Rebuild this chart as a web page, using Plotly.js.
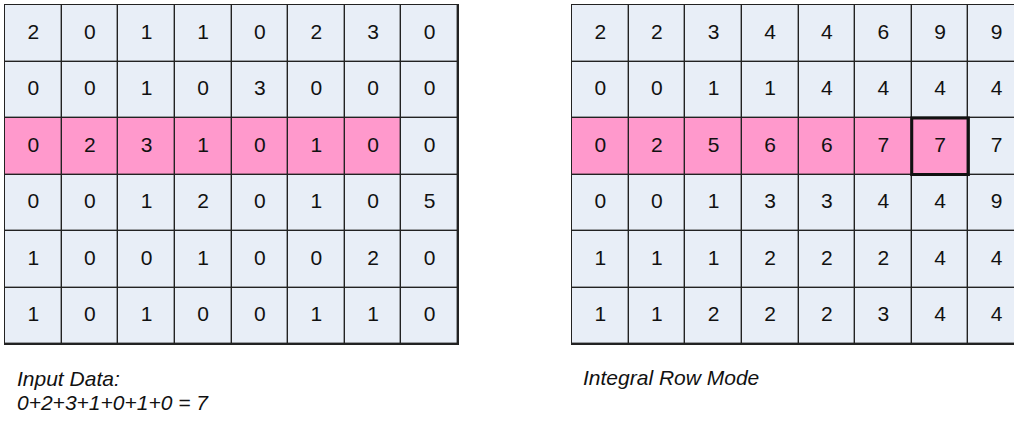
<!DOCTYPE html>
<html>
<head>
<meta charset="utf-8">
<script src="https://cdn.plot.ly/plotly-3.0.1.min.js"></script>
<style>html,body{margin:0;padding:0;background:#fff;}#chart{width:1014px;height:428px;}</style>
</head>
<body>
<div id="chart"></div>
<script>
// Input data grid (rows top to bottom)
const inputData = [
  [2, 0, 1, 1, 0, 2, 3, 0],
  [0, 0, 1, 0, 3, 0, 0, 0],
  [0, 2, 3, 1, 0, 1, 0, 0],
  [0, 0, 1, 2, 0, 1, 0, 5],
  [1, 0, 0, 1, 0, 0, 2, 0],
  [1, 0, 1, 0, 0, 1, 1, 0]
];
// Integral row mode grid
const integralData = [
  [2, 2, 3, 4, 4, 6, 9, 9],
  [0, 0, 1, 1, 4, 4, 4, 4],
  [0, 2, 5, 6, 6, 7, 7, 7],
  [0, 0, 1, 3, 3, 4, 4, 9],
  [1, 1, 1, 2, 2, 2, 4, 4],
  [1, 1, 2, 2, 2, 3, 4, 4]
];
const highlightRow = 2;
const highlightLastCol = 6;
const outlinedCell = {row: 2, col: 6};
const colIdx = [0, 1, 2, 3, 4, 5, 6, 7];
const rowIdx = [0, 1, 2, 3, 4, 5];
const labelLeft1 = 'Input Data:';
const labelLeft2 = '0+2+3+1+0+1+0 = 7';
const labelRight = 'Integral Row Mode';

const W = 1014, H = 428;
const FONT = 'Liberation Sans, Arial, sans-serif';
const mask = rowIdx.map(r => colIdx.map(c => (r === highlightRow && c <= highlightLastCol) ? 1 : 0));
const cs = [[0, '#E8EEF7'], [1, '#FF99CC']];

function hm(xa, ya) {
  return {
    type: 'heatmap', x: colIdx, y: rowIdx, z: mask,
    colorscale: cs, zmin: 0, zmax: 1, showscale: false,
    xgap: 1.4, ygap: 1.4, hoverinfo: 'skip',
    xaxis: xa, yaxis: ya
  };
}
function labels(vals, xa, ya) {
  const xs = [], ys = [], ts = [];
  rowIdx.forEach(r => colIdx.forEach(c => { xs.push(c); ys.push(r); ts.push(String(vals[r][c])); }));
  return {
    type: 'scatter', mode: 'text', x: xs, y: ys, text: ts,
    textposition: 'middle center',
    textfont: {family: FONT, size: 21, color: '#111'},
    hoverinfo: 'skip', cliponaxis: true,
    xaxis: xa, yaxis: ya
  };
}

const cellW = (458 - 5) / 8;
const rightWidthPx = W - 572;
const rightMax = -0.5 + rightWidthPx / cellW;

const axBase = {showgrid: false, zeroline: false, showticklabels: false, ticks: '', fixedrange: true,
  showline: true, linecolor: '#222', linewidth: 1.4};

const layout = {
  width: W, height: H,
  margin: {l: 0, r: 0, t: 0, b: 0},
  paper_bgcolor: '#fff', plot_bgcolor: '#222',
  showlegend: false,
  xaxis: Object.assign({}, axBase, {domain: [5 / W, 458 / W], range: [-0.5, 7.5], mirror: true, anchor: 'y'}),
  yaxis: Object.assign({}, axBase, {domain: [1 - 344 / H, 1 - 5 / H], range: [5.5, -0.5], mirror: true, anchor: 'x'}),
  xaxis2: Object.assign({}, axBase, {domain: [572 / W, 1], range: [-0.5, rightMax], mirror: true, anchor: 'y2'}),
  yaxis2: Object.assign({}, axBase, {domain: [1 - 344 / H, 1 - 5 / H], range: [5.5, -0.5], mirror: false, anchor: 'x2'}),
  shapes: [{
    type: 'rect', xref: 'x2', yref: 'y2',
    x0: outlinedCell.col - 0.5, x1: outlinedCell.col + 0.5,
    y0: outlinedCell.row - 0.5, y1: outlinedCell.row + 0.5,
    line: {color: '#111', width: 3}
  }],
  annotations: [
    {text: labelLeft1, xref: 'paper', yref: 'paper', x: 15 / W, y: 1 - 378 / H, xanchor: 'left', yanchor: 'middle', showarrow: false,
     font: {family: FONT, size: 21, color: '#111', style: 'italic'}},
    {text: labelLeft2, xref: 'paper', yref: 'paper', x: 15 / W, y: 1 - 402 / H, xanchor: 'left', yanchor: 'middle', showarrow: false,
     font: {family: FONT, size: 21, color: '#111', style: 'italic'}},
    {text: labelRight, xref: 'paper', yref: 'paper', x: 581 / W, y: 1 - 377 / H, xanchor: 'left', yanchor: 'middle', showarrow: false,
     font: {family: FONT, size: 21, color: '#111', style: 'italic'}}
  ]
};

Plotly.newPlot('chart', [hm('x', 'y'), hm('x2', 'y2'), labels(inputData, 'x', 'y'), labels(integralData, 'x2', 'y2')], layout, {displayModeBar: false, staticPlot: true});
</script>
</body>
</html>
